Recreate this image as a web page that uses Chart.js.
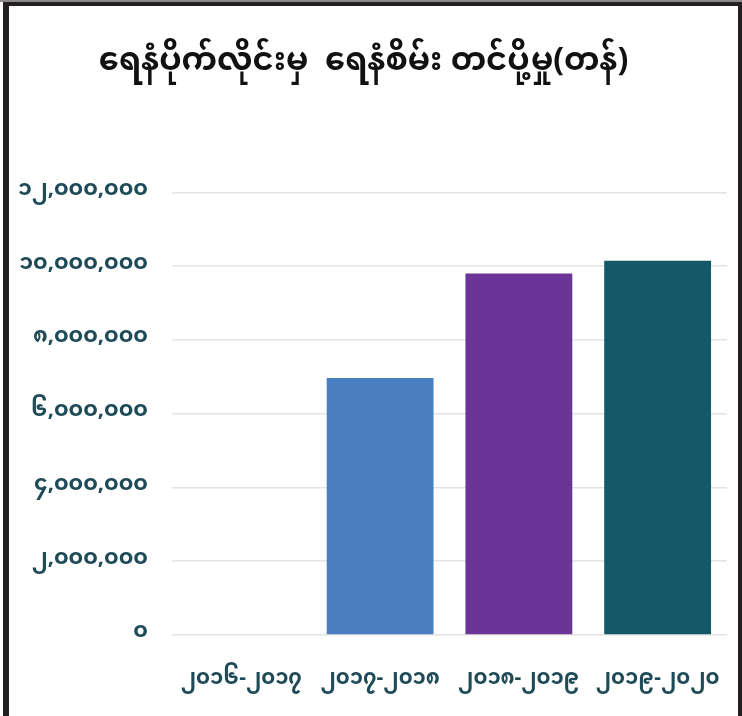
<!DOCTYPE html>
<html>
<head>
<meta charset="utf-8">
<script src="https://cdn.jsdelivr.net/npm/chart.js@4/dist/chart.umd.min.js"></script>
<style>
  html, body { margin: 0; padding: 0; background: #ffffff; }
  #wrap { position: relative; width: 742px; height: 716px; overflow: hidden; }
  #c { position: absolute; left: 0; top: 0; }
  #frame { position: absolute; left: 3px; top: 2px; width: 729px; height: 730px;
    border-left: 6px solid #231f20; border-top: 4px solid #231f20; border-right: 4px solid #231f20;
    pointer-events: none; }
  #topstrip { position: absolute; left: 0; top: 0; width: 742px; height: 2px; background: #8a8a8a; }
</style>
</head>
<body>
<div id="wrap">
  <canvas id="c" width="742" height="716"></canvas>
  <div id="topstrip"></div>
  <div id="frame"></div>
</div>
<script>
const titleText = 'ရေနံပိုက်လိုင်းမှ  ရေနံစိမ်း တင်ပို့မှု(တန်)';
const categories = ['၂၀၁၆-၂၀၁၇', '၂၀၁၇-၂၀၁၈', '၂၀၁၈-၂၀၁၉', '၂၀၁၉-၂၀၂၀'];
const exportTons = [0, 6970000, 9800000, 10150000];
const barColors = ['#4a7fc0', '#4a7fc0', '#6b3497', '#155868'];
const yTickValues = [0, 2000000, 4000000, 6000000, 8000000, 10000000, 12000000];
const yTickLabels = ['၀', '၂,၀၀၀,၀၀၀', '၄,၀၀၀,၀၀၀', '၆,၀၀၀,၀၀၀', '၈,၀၀၀,၀၀၀', '၁၀,၀၀၀,၀၀၀', '၁၂,၀၀၀,၀၀၀'];

const myFont = '"Noto Sans Myanmar", "Padauk", "Myanmar Text", "Noto Sans", sans-serif';

new Chart(document.getElementById('c'), {
  type: 'bar',
  data: {
    labels: categories,
    datasets: [{
      data: exportTons,
      backgroundColor: barColors,
      borderWidth: 0,
      categoryPercentage: 0.77,
      barPercentage: 1.0
    }]
  },
  options: {
    responsive: false,
    animation: false,
    layout: { padding: { left: 0, right: 15, top: 0, bottom: 0 } },
    plugins: {
      legend: { display: false },
      tooltip: { enabled: false },
      title: {
        display: true,
        text: titleText,
        color: '#111111',
        font: { family: myFont, size: 32, weight: 'bold', lineHeight: 1.2 },
        padding: { top: 47, bottom: 107 }
      }
    },
    scales: {
      x: {
        afterFit: (axis) => { axis.height = 81; axis.paddingRight = 0; axis.paddingLeft = 0; },
        grid: { display: false, drawTicks: false },
        border: { display: false },
        ticks: {
          color: '#1e4b57',
          font: { family: myFont, size: 21, weight: 'bold', lineHeight: 1.2 },
          padding: 34,
          maxRotation: 0,
          autoSkip: false
        }
      },
      y: {
        min: 0,
        max: 12000000,
        afterBuildTicks: (axis) => { axis.ticks = yTickValues.map(v => ({ value: v })); },
        afterFit: (axis) => { axis.width = 172; },
        grid: { color: '#e4e4e4', lineWidth: 1.5, drawTicks: false },
        border: { display: false },
        ticks: {
          color: '#1e4b57',
          font: { family: myFont, size: 22, weight: 'bold' },
          padding: 24,
          callback: (value) => {
            const i = yTickValues.indexOf(value);
            return i >= 0 ? yTickLabels[i] : '';
          }
        }
      }
    }
  }
});
</script>
</body>
</html>
